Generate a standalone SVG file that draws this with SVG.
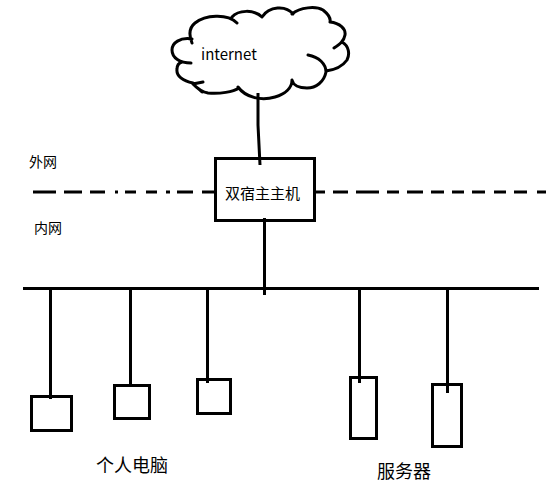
<svg xmlns="http://www.w3.org/2000/svg" width="552" height="489" viewBox="0 0 552 489">
<style>
.l{fill:none;stroke:#000;stroke-width:3}
.c{fill:none;stroke:#000;stroke-width:3;stroke-linecap:round}
text{font-family:"Noto Sans CJK SC","Noto Sans",sans-serif;fill:#000}
</style>
<rect width="552" height="489" fill="#fff"/>
<g id="cloud">
<path class="c" d="M192 43C188 33 190 27 195 23C205 15 227 13 237 23M232 17C238 10 254 9 262 17M262 17C269 6 286 5 293 14M292 14C300 7 316 6 323 10C328 14 331 18 330 22M330 22C340 23 346 29 345 35C344 41 340 44 334 48M342 42C349 46 350 54 347 60C342 67 334 70 326 71M308 55C319 57 326 64 326 72C324 82 316 88 307 88C299 88 293 85 292 80M292 80C292 88 285 94 275 97C262 101 246 98 238 87M239 88C233 92 220 94 208 93C201 92 197 88 193 84M203 82L193 84L202 92M193 83C183 81 176 76 177 69C177 66 179 63 182 62M191 63C180 63 172 58 172 50C172 43 180 37 192 39"/>
<text x="201" y="60" font-size="15">internet</text>
</g>
<g id="connectors">
<path class="l" d="M258 93L258 125L260 165"/>
<path class="l" d="M264.500 218V295"/>
<path class="l" d="M23 288.500H539"/>
<path class="l" d="M33 192H56M64 192H82M90 192H105M115 192H118M125 192H136M146 192H157M166 192H170M177 192H193M202 192H215M315 192H325M333 192H348M356 192H379M387 192H399M407 192H423M431 192H444M452 192H464M472 192H485M494 192H506M514 192H527M537 192H546"/>
<path class="l" d="M50.500 288V399"/>
<path class="l" d="M130.500 288V385"/>
<path class="l" d="M207.500 288V383"/>
<path class="l" d="M359.500 288V383"/>
<path class="l" d="M447.500 288V393"/>
</g>
<g id="host">
<rect class="l" x="215.500" y="158.500" width="99" height="62"/>
<text x="225" y="199" font-size="15">双宿主主机</text>
</g>
<g id="label-outer"><text x="29" y="167" font-size="14">外网</text></g>
<g id="label-inner"><text x="34" y="233" font-size="14">内网</text></g>
<g id="pc1"><rect class="l" x="31.500" y="396.500" width="40" height="34"/></g>
<g id="pc2"><rect class="l" x="114.500" y="385.500" width="35" height="33"/></g>
<g id="pc3"><rect class="l" x="197.500" y="379.500" width="33" height="34"/></g>
<g id="server1"><rect class="l" x="350.500" y="377.500" width="26" height="61"/></g>
<g id="server2"><rect class="l" x="432.500" y="384.500" width="29" height="62"/></g>
<g id="label-pc"><text x="96" y="472" font-size="18">个人电脑</text></g>
<g id="label-server"><text x="377" y="478" font-size="18">服务器</text></g>
</svg>
